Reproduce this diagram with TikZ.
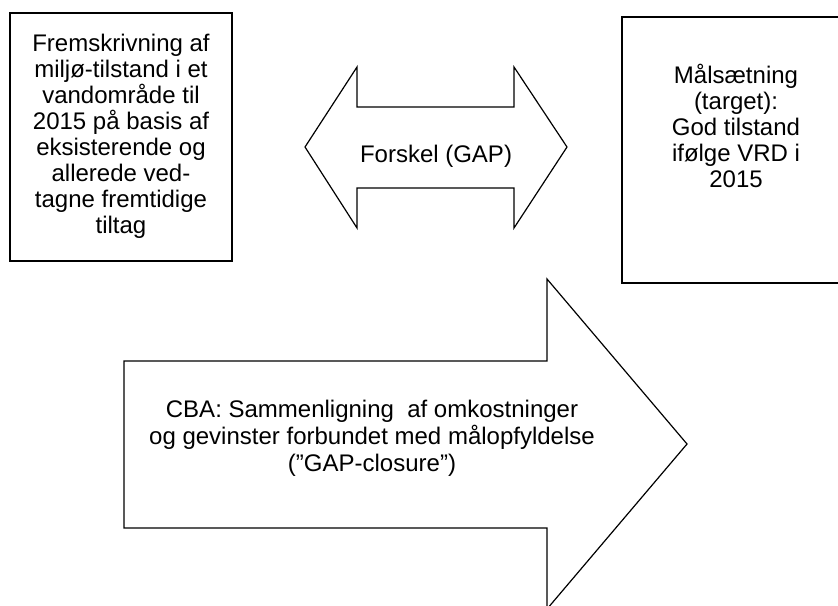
\documentclass[tikz,border=0pt]{standalone}
\usepackage{fontspec}
\setmainfont{Liberation Sans}
\usepackage{tikz}
\usetikzlibrary{positioning}

\begin{document}
\begin{tikzpicture}[
    x=0.5pt, y=-0.5pt,
    every node/.style={font=\fontsize{12}{13}\selectfont},
    boxnode/.style={rectangle, draw=black, line width=0.6pt, inner sep=0pt},
    txt/.style={align=center, inner sep=0pt},
    bigtxt/.style={align=center, inner sep=0pt, font=\fontsize{12}{13.5}\selectfont},
    blockarrow/.style={draw=black, line width=0.6pt, line join=miter}
]
\useasboundingbox (0,0) rectangle (838,605);
\clip (0,0) rectangle (838,605);

% Cajas
\node[boxnode, minimum width=111pt, minimum height=124pt] (proj) at (121,137) {};
\node[boxnode, minimum width=113.5pt, minimum height=133pt] (meta) at (735.5,150) {};

\node[txt] (projtxt) at (121,136) {Fremskrivning af\\miljø-tilstand i et\\vandområde til\\2015 på basis af\\eksisterende og\\allerede ved-\\tagne fremtidige\\tiltag};
\node[txt] (metatxt) at (736,126) {Målsætning\\(target):\\God tilstand\\ifølge VRD i\\2015};

% Blokpile
\draw[blockarrow] (305,147) -- (357,67) -- (357,107) -- (514,107) -- (514,67) -- (567,147)
    -- (514,228) -- (514,188) -- (357,188) -- (357,228) -- cycle;
\node[txt] (gap) at (436,156) {Forskel (GAP)};

\draw[blockarrow] (124,361) -- (547,361) -- (547,279) -- (687,444) -- (547,609)
    -- (547,528) -- (124,528) -- cycle;
\node[bigtxt] (cba) at (372,438) {CBA: Sammenligning\ \ af omkostninger\\og gevinster forbundet med målopfyldelse\\(”GAP-closure”)};

\end{tikzpicture}
\end{document}
